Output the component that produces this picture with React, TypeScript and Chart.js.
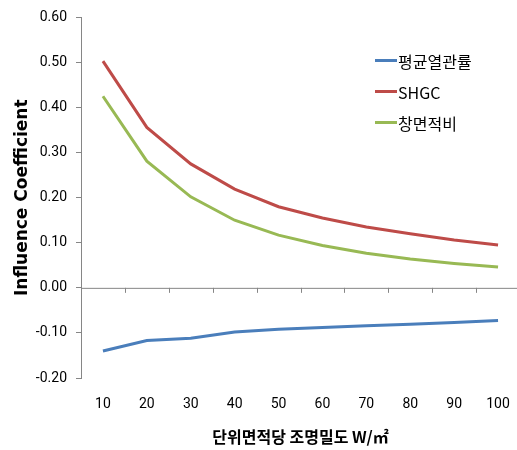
import { useEffect, useRef } from 'react';
import { Chart, registerables, type ChartConfiguration, type Plugin } from 'chart.js';

Chart.register(...registerables);

const categories = ['10', '20', '30', '40', '50', '60', '70', '80', '90', '100'];
const uValue = [-0.14, -0.117, -0.112, -0.098, -0.092, -0.088, -0.084, -0.081, -0.077, -0.0725];
const shgc = [0.503, 0.356, 0.275, 0.219, 0.18, 0.155, 0.135, 0.12, 0.106, 0.095];
const windowRatio = [0.425, 0.281, 0.202, 0.15, 0.117, 0.094, 0.077, 0.064, 0.054, 0.046];
const seriesNames = ['평균열관률', 'SHGC', '창면적비'];
const COLORS = ['#4a7ebb', '#be4b48', '#98b954'];
const AXIS = '#868686';
const TICK_FONT = 'Roboto, "Noto Sans", sans-serif';
const KR_FONT = '"Noto Sans CJK KR", "Noto Sans", sans-serif';

// zero line with category-boundary ticks (Excel draws the x axis at 0)
const zeroAxis: Plugin<'line'> = {
  id: 'zeroAxis',
  afterDatasetsDraw(chart) {
    const { ctx, chartArea, scales } = chart;
    const y0 = scales.y.getPixelForValue(0);
    const n = categories.length;
    const step = (chartArea.right - chartArea.left) / n;
    ctx.save();
    ctx.strokeStyle = AXIS;
    ctx.lineWidth = 1;
    ctx.beginPath();
    ctx.moveTo(chartArea.left, y0 + 0.5);
    ctx.lineTo(chartArea.right, y0 + 0.5);
    for (let i = 0; i <= n; i++) {
      const x = Math.round(chartArea.left + i * step) + 0.5;
      ctx.moveTo(x, y0);
      ctx.lineTo(x, y0 + 5);
    }
    ctx.stroke();
    ctx.restore();
  },
};

export default function App() {
  const canvasRef = useRef<HTMLCanvasElement>(null);

  useEffect(() => {
    document.body.style.margin = '0';
    if (!canvasRef.current) return;
    const data = [uValue, shgc, windowRatio];
    const config: ChartConfiguration<'line'> = {
      type: 'line',
      data: {
        labels: categories,
        datasets: data.map((d, i) => ({
          label: seriesNames[i],
          data: d,
          borderColor: COLORS[i],
          backgroundColor: COLORS[i],
          borderWidth: 3,
          pointRadius: 0,
          tension: 0,
          fill: false,
        })),
      },
      options: {
        responsive: false,
        animation: false,
        layout: { padding: { top: 15, right: 0, bottom: 0, left: 0 } },
        plugins: { legend: { display: false }, tooltip: { enabled: false } },
        scales: {
          x: {
            offset: true,
            grid: { display: false },
            border: { display: false },
            ticks: {
              color: '#000',
              padding: 10,
              font: { family: TICK_FONT, size: 14 },
              maxRotation: 0,
            },
            title: {
              display: true,
              text: '단위면적당 조명밀도 W/㎡',
              color: '#000',
              font: { family: KR_FONT, size: 16, weight: 'bold' },
              padding: { top: 0, bottom: 3 },
            },
            afterFit: (s) => {
              s.height = 72;
            },
          },
          y: {
            min: -0.2,
            max: 0.6,
            ticks: {
              stepSize: 0.1,
              color: '#000',
              padding: 9,
              font: { family: TICK_FONT, size: 14 },
              callback: (v) => Number(v).toFixed(2),
            },
            grid: { drawOnChartArea: false, color: AXIS, tickLength: 5 },
            border: { color: AXIS },
            title: {
              display: true,
              text: 'Influence Coefficient',
              color: '#000',
              font: { family: '"DejaVu Sans", sans-serif', size: 17, weight: 'bold' },
              padding: { top: 12, bottom: 0 },
            },
            afterFit: (s) => {
              s.width = 81;
            },
          },
        },
      },
      plugins: [zeroAxis],
    };
    const chart = new Chart(canvasRef.current, config);
    return () => chart.destroy();
  }, []);

  return (
    <div style={{ position: 'relative', width: 517, height: 450, overflow: 'hidden' }}>
      <canvas ref={canvasRef} width={520} height={450} />
      <div style={{ position: 'absolute', left: 375, top: 45, fontFamily: KR_FONT, fontSize: 16 }}>
        {seriesNames.map((name, i) => (
          <div key={name} style={{ display: 'flex', alignItems: 'center', height: 31 }}>
            <div style={{ width: 22, height: 3, background: COLORS[i], marginRight: 1 }} />
            {name}
          </div>
        ))}
      </div>
    </div>
  );
}
